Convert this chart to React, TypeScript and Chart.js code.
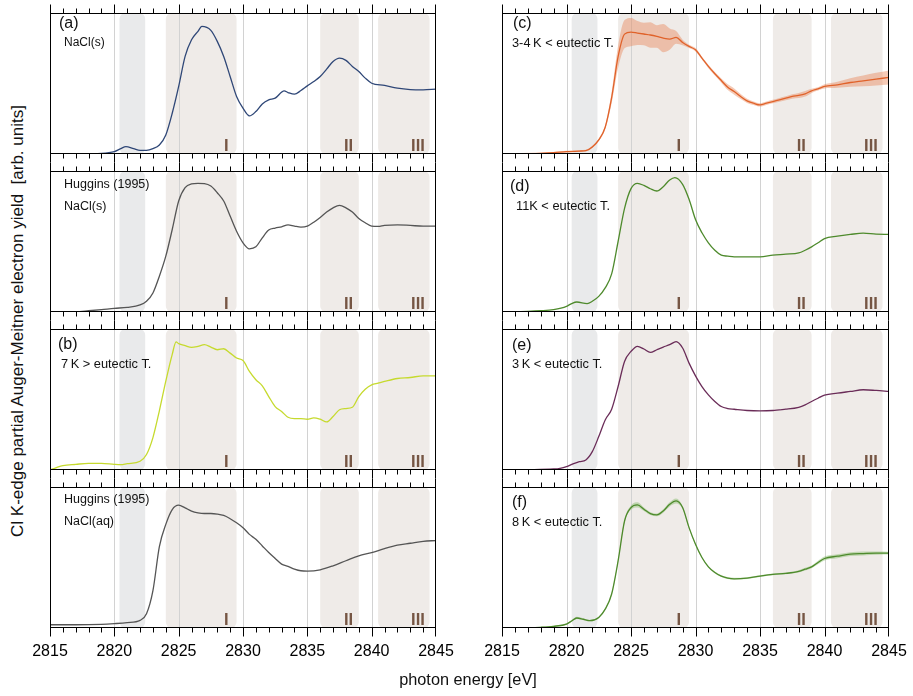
import React, { useEffect, useRef } from "react";
import { Chart, registerables } from "chart.js";

Chart.register(...registerables);

const FONT = '"Liberation Sans", Arial, Helvetica, sans-serif';

// ---------------- axis / annotation data ----------------
const X_MIN = 2815;
const X_MAX = 2845;
const MAJOR_STEP = 5;
const MINOR_STEP = 1;
const TICK_LABELS = ["2815", "2820", "2825", "2830", "2835", "2840", "2845"];
const GRID_LINES = [2820, 2825, 2830, 2835, 2840];
const GRAY_BAND: [number, number] = [2820.4, 2822.4];
const TAN_BANDS: [number, number][] = [
  [2824, 2829.5],
  [2836, 2839],
  [2840.5, 2844.5],
];
const REGION_LABELS = ["I", "II", "III"];
const REGION_POS = [2828.7, 2838.2, 2843.6];

const X_TITLE = "photon energy [eV]";
const Y_TITLE = "Cl K-edge partial Auger-Meitner electron yield  [arb. units]";

// ---------------- series (x = photon energy, y = normalised yield) ----------------
const SERIES_A: [number, number][] = [
  [2815, 0], [2817, 0.002], [2819, 0.005], [2820, 0.017], [2820.5, 0.038], [2820.9, 0.052],
  [2821.5, 0.038], [2822, 0.026], [2822.5, 0.026], [2823, 0.038], [2823.5, 0.064], [2824, 0.135],
  [2824.5, 0.289], [2825, 0.479], [2825.5, 0.692], [2826, 0.81], [2826.5, 0.87], [2826.8, 0.905],
  [2827.5, 0.877], [2828, 0.799], [2828.5, 0.692], [2829, 0.55], [2829.5, 0.408], [2830, 0.325],
  [2830.5, 0.27], [2831, 0.301], [2831.5, 0.355], [2832, 0.384], [2832.5, 0.396], [2833.2, 0.448],
  [2833.5, 0.436], [2834, 0.424], [2834.5, 0.45], [2835, 0.483], [2835.5, 0.514], [2836, 0.55],
  [2836.5, 0.602], [2837, 0.656], [2837.5, 0.68], [2838, 0.664], [2838.5, 0.621], [2839, 0.585],
  [2839.5, 0.538], [2840, 0.502], [2841, 0.486], [2842, 0.467], [2843, 0.457], [2844, 0.455],
  [2845, 0.46],
];

const SERIES_HUGGINS_S: [number, number][] = [
  [2815, 0], [2817, 0.002], [2818, 0.009], [2819, 0.017], [2820, 0.026], [2821, 0.033],
  [2822, 0.05], [2822.5, 0.076], [2823, 0.135], [2823.5, 0.254], [2824, 0.396], [2824.5, 0.585],
  [2825, 0.787], [2825.5, 0.882], [2826, 0.908], [2826.5, 0.912], [2827, 0.91], [2827.5, 0.893],
  [2828, 0.846], [2828.5, 0.787], [2829, 0.68], [2829.5, 0.573], [2830, 0.491], [2830.5, 0.448],
  [2831, 0.462], [2831.5, 0.526], [2832, 0.581], [2832.5, 0.595], [2833, 0.604], [2833.5, 0.618],
  [2834, 0.609], [2834.5, 0.602], [2835, 0.609], [2835.5, 0.637], [2836, 0.671], [2836.5, 0.709],
  [2837, 0.739], [2837.5, 0.756], [2838, 0.739], [2838.5, 0.709], [2839, 0.664], [2839.5, 0.633],
  [2840, 0.609], [2840.5, 0.607], [2841, 0.614], [2842, 0.618], [2843, 0.614], [2844, 0.609],
  [2845, 0.609],
];

const SERIES_B: [number, number][] = [
  [2815, 0], [2815.5, 0.017], [2816, 0.031], [2817, 0.04], [2818, 0.047], [2819, 0.047],
  [2820, 0.04], [2820.5, 0.038], [2821, 0.045], [2822, 0.062], [2822.5, 0.11], [2823, 0.23],
  [2823.5, 0.42], [2824, 0.63], [2824.5, 0.82], [2824.8, 0.908], [2825, 0.896], [2825.5, 0.882],
  [2826, 0.87], [2826.5, 0.877], [2827, 0.889], [2827.5, 0.872], [2828, 0.853], [2828.5, 0.86],
  [2829, 0.829], [2829.5, 0.794], [2830, 0.777], [2830.5, 0.699], [2831, 0.64], [2831.5, 0.597],
  [2832, 0.521], [2832.5, 0.45], [2833, 0.415], [2833.5, 0.374], [2834, 0.365], [2834.5, 0.365],
  [2835, 0.36], [2835.5, 0.37], [2836, 0.36], [2836.5, 0.341], [2837, 0.379], [2837.5, 0.427],
  [2838, 0.436], [2838.5, 0.445], [2839, 0.521], [2839.5, 0.573], [2840, 0.604], [2840.5, 0.616],
  [2841, 0.628], [2842, 0.649], [2843, 0.656], [2844, 0.668], [2845, 0.668],
];

const SERIES_HUGGINS_AQ: [number, number][] = [
  [2815, 0.023], [2817, 0.023], [2819, 0.026], [2820, 0.031], [2821, 0.038], [2822, 0.054],
  [2822.5, 0.101], [2823, 0.265], [2823.5, 0.577], [2824, 0.735], [2824.5, 0.84], [2825, 0.871],
  [2825.5, 0.852], [2826, 0.829], [2826.5, 0.817], [2827, 0.812], [2827.5, 0.812], [2828, 0.808],
  [2828.5, 0.798], [2829, 0.775], [2829.5, 0.746], [2830, 0.711], [2830.5, 0.664], [2831, 0.629],
  [2831.5, 0.582], [2832, 0.535], [2832.5, 0.493], [2833, 0.453], [2833.5, 0.437], [2834, 0.418],
  [2834.5, 0.406], [2835, 0.404], [2836, 0.413], [2837, 0.441], [2838, 0.477], [2839, 0.512],
  [2840, 0.535], [2841, 0.563], [2842, 0.587], [2843, 0.601], [2844, 0.615], [2845, 0.62],
];

// [x, y, spread]
const SERIES_C: [number, number, number][] = [
  [2815, 0, 0.006], [2818, 0.005, 0.006], [2819, 0.009, 0.006], [2820, 0.017, 0.006],
  [2821, 0.021, 0.006], [2821.5, 0.024, 0.006], [2822, 0.05, 0.008], [2822.5, 0.1, 0.01],
  [2823, 0.19, 0.015], [2823.5, 0.4, 0.04], [2824, 0.69, 0.08], [2824.5, 0.85, 0.1],
  [2825, 0.865, 0.1], [2825.5, 0.858, 0.085], [2826, 0.851, 0.08], [2826.5, 0.844, 0.09],
  [2827, 0.834, 0.08], [2827.5, 0.822, 0.1], [2828, 0.815, 0.075], [2828.5, 0.827, 0.045],
  [2829, 0.791, 0.02], [2829.5, 0.763, 0.012], [2830, 0.739, 0.012], [2830.5, 0.68, 0.01],
  [2831, 0.621, 0.012], [2831.5, 0.569, 0.012], [2832, 0.521, 0.015], [2832.5, 0.474, 0.02],
  [2833, 0.443, 0.022], [2833.5, 0.408, 0.018], [2834, 0.377, 0.015], [2834.5, 0.36, 0.012],
  [2835, 0.348, 0.012], [2835.5, 0.36, 0.012], [2836, 0.372, 0.012], [2836.5, 0.384, 0.014],
  [2837, 0.396, 0.014], [2837.5, 0.408, 0.016], [2838, 0.415, 0.018], [2838.5, 0.427, 0.02],
  [2839, 0.448, 0.015], [2839.5, 0.462, 0.012], [2840, 0.479, 0.015], [2841, 0.491, 0.022],
  [2842, 0.507, 0.03], [2843, 0.519, 0.038], [2844, 0.531, 0.045], [2845, 0.543, 0.05],
];

const SERIES_D: [number, number][] = [
  [2815, 0.002], [2817, 0.005], [2818, 0.009], [2819, 0.017], [2820, 0.04], [2820.4, 0.06],
  [2820.8, 0.071], [2821.6, 0.06], [2822, 0.076], [2822.5, 0.111], [2823, 0.171], [2823.5, 0.27],
  [2824, 0.5], [2824.5, 0.735], [2825, 0.875], [2825.5, 0.912], [2826, 0.898], [2826.5, 0.874],
  [2827, 0.858], [2827.5, 0.889], [2828, 0.936], [2828.4, 0.953], [2829, 0.905], [2829.5, 0.799],
  [2830, 0.656], [2830.5, 0.562], [2831, 0.491], [2831.5, 0.438], [2832, 0.403], [2832.5, 0.396],
  [2833, 0.391], [2834, 0.391], [2835, 0.391], [2836, 0.403], [2837, 0.41], [2838, 0.419],
  [2838.5, 0.438], [2839, 0.462], [2839.5, 0.491], [2840, 0.521], [2841, 0.538], [2842, 0.55],
  [2843, 0.559], [2844, 0.552], [2845, 0.55],
];

const SERIES_E: [number, number][] = [
  [2815, 0], [2817, 0.002], [2819, 0.007], [2819.5, 0.012], [2820, 0.024], [2820.5, 0.043],
  [2821, 0.059], [2821.5, 0.071], [2822, 0.13], [2822.5, 0.237], [2823, 0.355], [2823.5, 0.431],
  [2824, 0.592], [2824.5, 0.77], [2825, 0.841], [2825.5, 0.877], [2826, 0.858], [2826.5, 0.834],
  [2827, 0.853], [2827.5, 0.872], [2828, 0.889], [2828.5, 0.91], [2829, 0.865], [2829.5, 0.758],
  [2830, 0.668], [2830.5, 0.592], [2831, 0.533], [2831.5, 0.486], [2832, 0.45], [2832.5, 0.436],
  [2833, 0.431], [2834, 0.422], [2835, 0.419], [2836, 0.422], [2836.5, 0.427], [2837, 0.431],
  [2838, 0.445], [2838.5, 0.462], [2839, 0.486], [2839.5, 0.509], [2840, 0.531], [2841, 0.545],
  [2842, 0.557], [2843, 0.569], [2844, 0.564], [2845, 0.557],
];

// [x, y, spread]
const SERIES_F: [number, number, number][] = [
  [2815, 0, 0.004], [2817, 0.002, 0.004], [2818, 0.005, 0.004], [2819, 0.012, 0.004],
  [2820, 0.028, 0.005], [2820.4, 0.05, 0.006], [2820.8, 0.071, 0.008], [2821.3, 0.062, 0.006],
  [2821.8, 0.052, 0.005], [2822.5, 0.075, 0.005], [2823, 0.134, 0.006], [2823.5, 0.241, 0.008],
  [2824, 0.476, 0.01], [2824.5, 0.759, 0.012], [2825, 0.854, 0.015], [2825.5, 0.873, 0.018],
  [2826, 0.842, 0.012], [2826.5, 0.811, 0.01], [2827, 0.802, 0.01], [2827.5, 0.83, 0.012],
  [2828, 0.877, 0.015], [2828.5, 0.901, 0.018], [2829, 0.854, 0.01], [2829.5, 0.712, 0.008],
  [2830, 0.594, 0.007], [2830.5, 0.5, 0.006], [2831, 0.434, 0.006], [2831.5, 0.394, 0.006],
  [2832, 0.368, 0.007], [2832.5, 0.354, 0.007], [2833, 0.349, 0.007], [2834, 0.354, 0.006],
  [2835, 0.368, 0.006], [2836, 0.38, 0.006], [2837, 0.387, 0.006], [2838, 0.401, 0.008],
  [2838.5, 0.417, 0.01], [2839, 0.434, 0.01], [2839.5, 0.465, 0.012], [2840, 0.493, 0.014],
  [2841, 0.509, 0.014], [2842, 0.524, 0.014], [2843, 0.528, 0.014], [2844, 0.531, 0.012],
  [2845, 0.531, 0.01],
];

// ---------------- panel layout ----------------
const COL_LEFT = [50, 502];
const COL_W = [386, 387];
const ROW_TOP = [13, 171, 329, 487];
const PANEL_H = 141;
const PAD_L = 20;
const PAD_R = 26;
const PAD_T = 12;
const PAD_B = 12;
const PAD_B_LAST = 44;

type Txt = { t: string; dx: number; dy: number; size: number };
type PanelCfg = {
  col: number;
  row: number;
  line: [number, number][] | [number, number, number][];
  color: string;
  band?: string;
  texts: Txt[];
};

const PANELS: PanelCfg[] = [
  {
    col: 0, row: 0, line: SERIES_A, color: "#2f4777",
    texts: [{ t: "(a)", dx: 9, dy: 11, size: 16 }, { t: "NaCl(s)", dx: 14, dy: 30, size: 12 }],
  },
  {
    col: 0, row: 1, line: SERIES_HUGGINS_S, color: "#555555",
    texts: [{ t: "Huggins (1995)", dx: 14, dy: 14, size: 12.5 }, { t: "NaCl(s)", dx: 14, dy: 36, size: 12.5 }],
  },
  {
    col: 0, row: 2, line: SERIES_B, color: "#c6da2e",
    texts: [{ t: "(b)", dx: 8, dy: 16, size: 16 }, { t: "7\u2009K > eutectic T.", dx: 11, dy: 35, size: 12.8 }],
  },
  {
    col: 0, row: 3, line: SERIES_HUGGINS_AQ, color: "#555555",
    texts: [{ t: "Huggins (1995)", dx: 14, dy: 13, size: 12.5 }, { t: "NaCl(aq)", dx: 14, dy: 35, size: 12.5 }],
  },
  {
    col: 1, row: 0, line: SERIES_C, color: "#e0622a", band: "rgba(230,128,80,0.42)",
    texts: [{ t: "(c)", dx: 11, dy: 11, size: 16 }, { t: "3-4\u2009K < eutectic T.", dx: 10, dy: 30, size: 12.8 }],
  },
  {
    col: 1, row: 1, line: SERIES_D, color: "#4e8a2c",
    texts: [{ t: "(d)", dx: 8, dy: 16, size: 16 }, { t: "11K < eutectic T.", dx: 14, dy: 35, size: 12.8 }],
  },
  {
    col: 1, row: 2, line: SERIES_E, color: "#6a2c58",
    texts: [{ t: "(e)", dx: 10, dy: 17, size: 16 }, { t: "3\u2009K < eutectic T.", dx: 10, dy: 35, size: 12.8 }],
  },
  {
    col: 1, row: 3, line: SERIES_F, color: "#4e8a2c", band: "rgba(120,180,90,0.4)",
    texts: [{ t: "(f)", dx: 10, dy: 16, size: 16 }, { t: "8\u2009K < eutectic T.", dx: 10, dy: 35, size: 12.8 }],
  },
];

function Panel({ cfg }: { cfg: PanelCfg }) {
  const ref = useRef<HTMLCanvasElement>(null);
  const isLast = cfg.row === ROW_TOP.length - 1;
  const padB = isLast ? PAD_B_LAST : PAD_B;
  const w = PAD_L + COL_W[cfg.col] + PAD_R;
  const h = PAD_T + PANEL_H + padB;

  useEffect(() => {
    if (!ref.current) return;
    const pts = cfg.line as any[];
    const datasets: any[] = [
      {
        data: pts.map((p) => ({ x: p[0], y: p[1] })),
        borderColor: cfg.color,
        borderWidth: 1.3,
        pointRadius: 0,
        fill: false,
        cubicInterpolationMode: "monotone",
      },
    ];
    if (cfg.band) {
      datasets.push({
        data: pts.map((p) => ({ x: p[0], y: p[1] - p[2] })),
        borderWidth: 0,
        borderColor: "transparent",
        pointRadius: 0,
        fill: false,
        cubicInterpolationMode: "monotone",
      });
      datasets.push({
        data: pts.map((p) => ({ x: p[0], y: p[1] + p[2] })),
        borderWidth: 0,
        borderColor: "transparent",
        backgroundColor: cfg.band,
        pointRadius: 0,
        fill: "-1",
        cubicInterpolationMode: "monotone",
      });
    }

    const decor = {
      id: "decor",
      beforeDatasetsDraw(chart: any) {
        const { ctx, chartArea } = chart;
        const x = chart.scales.x;
        const { left, right, top, bottom } = chartArea;
        ctx.save();
        ctx.beginPath();
        ctx.rect(left, top, right - left, bottom - top);
        ctx.clip();
        const r = 6;
        ctx.fillStyle = "#e9eaeb";
        {
          const x0 = x.getPixelForValue(GRAY_BAND[0]);
          const x1 = x.getPixelForValue(GRAY_BAND[1]);
          ctx.beginPath();
          ctx.roundRect(x0, top, x1 - x0, bottom - top, r);
          ctx.fill();
        }
        ctx.fillStyle = "#efebe8";
        TAN_BANDS.forEach(([a, b]) => {
          const x0 = x.getPixelForValue(a);
          const x1 = x.getPixelForValue(b);
          ctx.beginPath();
          ctx.roundRect(x0, top, x1 - x0, bottom - top, r);
          ctx.fill();
        });
        ctx.strokeStyle = "#d2d2d2";
        ctx.lineWidth = 1;
        GRID_LINES.forEach((v) => {
          const px = Math.round(x.getPixelForValue(v)) + 0.5;
          ctx.beginPath();
          ctx.moveTo(px, top);
          ctx.lineTo(px, bottom);
          ctx.stroke();
        });
        ctx.fillStyle = "#765644";
        ctx.font = `bold 16.5px ${FONT}`;
        ctx.textAlign = "center";
        ctx.textBaseline = "alphabetic";
        REGION_LABELS.forEach((lab, i) => {
          ctx.fillText(lab, x.getPixelForValue(REGION_POS[i]), bottom - 3.3);
        });
        ctx.fillStyle = "#111111";
        ctx.textAlign = "left";
        ctx.textBaseline = "middle";
        cfg.texts.forEach((t) => {
          ctx.font = `${t.size}px ${FONT}`;
          ctx.fillText(t.t, left + t.dx, top + t.dy);
        });
        ctx.restore();
      },
      afterDraw(chart: any) {
        const { ctx, chartArea } = chart;
        const x = chart.scales.x;
        const { left, right, top, bottom } = chartArea;
        ctx.save();
        ctx.strokeStyle = "#000000";
        ctx.lineWidth = 1;
        ctx.strokeRect(Math.round(left) + 0.5, Math.round(top) + 0.5, Math.round(right - left) - 1, Math.round(bottom - top) - 1);
        ctx.beginPath();
        for (let v = X_MIN; v <= X_MAX + 1e-9; v += MINOR_STEP) {
          const major = Math.abs(v / MAJOR_STEP - Math.round(v / MAJOR_STEP)) < 1e-9;
          const len = major ? 8.5 : 4.5;
          let px = Math.round(x.getPixelForValue(v)) + 0.5;
          if (v === X_MAX) px -= 1;
          ctx.moveTo(px, top);
          ctx.lineTo(px, top - len);
          ctx.moveTo(px, bottom);
          ctx.lineTo(px, bottom + len);
        }
        ctx.stroke();
        if (isLast) {
          ctx.fillStyle = "#000000";
          ctx.font = `16px ${FONT}`;
          ctx.textAlign = "center";
          ctx.textBaseline = "alphabetic";
          TICK_LABELS.forEach((lab) => {
            ctx.fillText(lab, x.getPixelForValue(parseFloat(lab)), bottom + 27.5);
          });
        }
        ctx.restore();
      },
    };

    const chart = new Chart(ref.current, {
      type: "line",
      data: { datasets },
      options: {
        responsive: false,
        animation: false,
        events: [],
        layout: { padding: { left: PAD_L, right: PAD_R, top: PAD_T, bottom: padB } },
        plugins: { legend: { display: false }, tooltip: { enabled: false } },
        scales: {
          x: { type: "linear", min: X_MIN, max: X_MAX, display: false },
          y: { type: "linear", min: 0, max: 1, display: false },
        },
      },
      plugins: [decor],
    } as any);
    return () => chart.destroy();
  }, []);

  return (
    <canvas
      ref={ref}
      width={w}
      height={h}
      style={{
        position: "absolute",
        left: COL_LEFT[cfg.col] - PAD_L,
        top: ROW_TOP[cfg.row] - PAD_T,
        width: w,
        height: h,
      }}
    />
  );
}

export default function App() {
  return (
    <div
      style={{
        position: "absolute",
        left: 0,
        top: 0,
        width: 913,
        height: 696,
        background: "#ffffff",
        overflow: "hidden",
        fontFamily: FONT,
        color: "#111",
      }}
    >
      {PANELS.map((p, i) => (
        <Panel key={i} cfg={p} />
      ))}
      <div
        style={{
          position: "absolute",
          left: 16.5,
          top: 320.5,
          transform: "translate(-50%, -50%) rotate(-90deg)",
          whiteSpace: "pre",
          fontSize: 17,
          lineHeight: "17px",
        }}
      >
        {Y_TITLE}
      </div>
      <div
        style={{
          position: "absolute",
          left: 368,
          width: 200,
          top: 671,
          textAlign: "center",
          fontSize: 16.3,
          lineHeight: "17px",
          whiteSpace: "pre",
        }}
      >
        {X_TITLE}
      </div>
    </div>
  );
}
